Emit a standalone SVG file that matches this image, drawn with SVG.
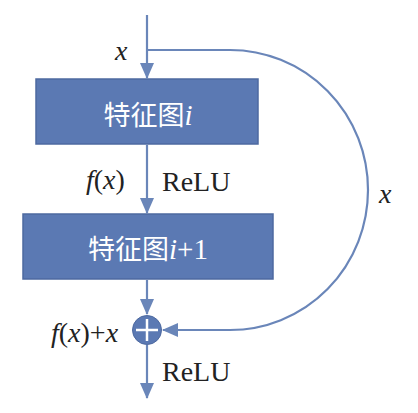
<svg xmlns="http://www.w3.org/2000/svg" width="418" height="413" viewBox="0 0 418 413">
<defs>
<style>
.box{fill:#5b79b3;stroke:#4d69a0;stroke-width:1.5}
.ln{fill:none;stroke:#6a86b9;stroke-width:2.2}
.bt{font-family:"Noto Sans CJK SC",sans-serif;font-size:27px;fill:#ffffff}
.bi{font-family:"Liberation Serif",serif;font-style:italic;font-size:29px;fill:#ffffff}
.br{font-family:"Liberation Serif",serif;font-size:29px;fill:#ffffff}
.it{font-family:"Liberation Serif",serif;font-style:italic;font-size:28px;fill:#222222}
.rm{font-family:"Liberation Serif",serif;font-size:28px;fill:#222222}
</style>
<marker id="ah2" markerWidth="16" markerHeight="14" refX="15" refY="7" orient="auto" markerUnits="userSpaceOnUse" viewBox="0 0 16 14">
<path d="M0,0 L16,7 L0,14 Z" fill="#6a86b9"/>
</marker>
</defs>
<rect width="418" height="413" fill="#ffffff"/>
<g id="connectors">
<line class="ln" x1="147" y1="15" x2="147" y2="78" marker-end="url(#ah2)"/>
<path class="ln" d="M147,50 L230,50 A138,140 0 0 1 230,330 L163,330" marker-end="url(#ah2)"/>
<line class="ln" x1="147" y1="145" x2="147" y2="213" marker-end="url(#ah2)"/>
<line class="ln" x1="147" y1="280" x2="147" y2="314" marker-end="url(#ah2)"/>
<line class="ln" x1="147" y1="345" x2="147" y2="398" marker-end="url(#ah2)"/>
</g>
<g id="node-map-i">
<rect class="box" x="36" y="79" width="222" height="65"/>
<text x="148" y="125" text-anchor="middle"><tspan class="bt">特征图</tspan><tspan class="bi">i</tspan></text>
</g>
<g id="node-map-i1">
<rect class="box" x="23" y="214" width="250" height="65"/>
<text x="148" y="259" text-anchor="middle"><tspan class="bt">特征图</tspan><tspan class="bi">i</tspan><tspan class="br">+1</tspan></text>
</g>
<g id="node-add">
<circle cx="147" cy="330" r="14.5" fill="#5b79b3" stroke="#4d69a0" stroke-width="1"/>
<line x1="147" y1="319" x2="147" y2="341" stroke="#ffffff" stroke-width="2.5"/>
<line x1="136" y1="330" x2="158" y2="330" stroke="#ffffff" stroke-width="2.5"/>
</g>
<g id="labels">
<text class="it" x="115" y="60">x</text>
<text x="86" y="189"><tspan class="it">f</tspan><tspan class="rm">(</tspan><tspan class="it">x</tspan><tspan class="rm">)</tspan></text>
<text class="rm" x="162" y="191">ReLU</text>
<text class="it" x="379" y="203">x</text>
<text x="51" y="342"><tspan class="it">f</tspan><tspan class="rm">(</tspan><tspan class="it">x</tspan><tspan class="rm">)+</tspan><tspan class="it">x</tspan></text>
<text class="rm" x="162" y="381">ReLU</text>
</g>
</svg>
